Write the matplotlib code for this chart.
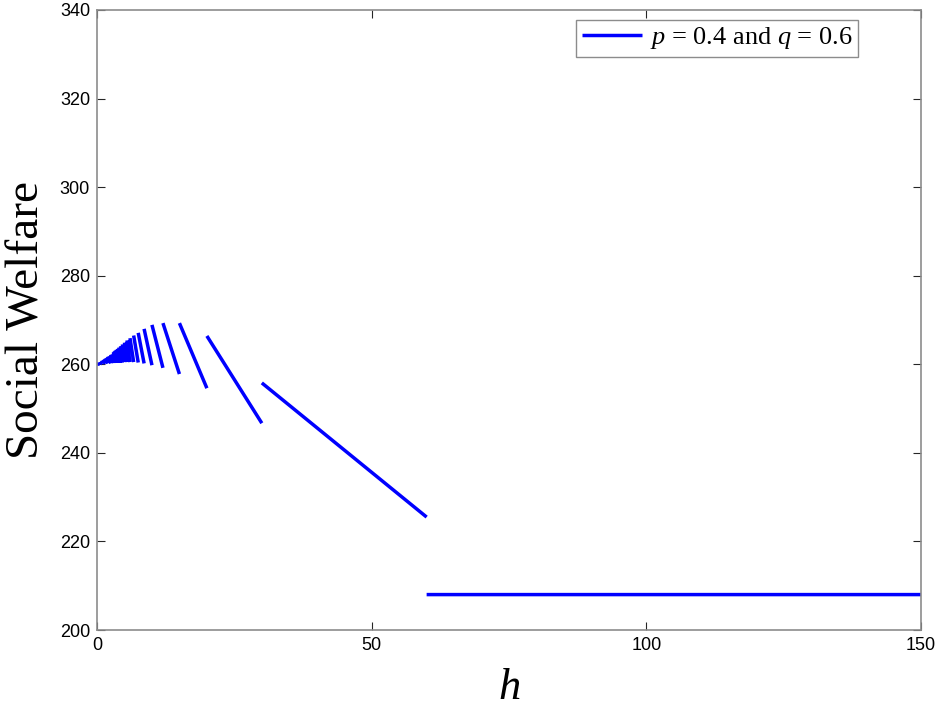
import matplotlib
matplotlib.use('Agg')
import matplotlib.pyplot as plt
import numpy as np

# segment boundaries in h and welfare at left/right end of each segment
seg_left = [60, 30, 20, 15, 12, 10, 8.57, 7.5, 6.67, 6, 5.45, 5, 4.62, 4.29, 4,
            3.75, 3.53, 3.33, 3.16, 3, 2.5, 2, 1.5, 1, 0.5, 0]
seg_right = [150, 60, 30, 20, 15, 12, 10, 8.57, 7.5, 6.67, 6, 5.45, 5, 4.62, 4.29,
             4, 3.75, 3.53, 3.33, 3.16, 3, 2.5, 2, 1.5, 1, 0.5]
w_start = [208, 255.8, 266.4, 269.3, 269.3, 268.9, 268.0, 267.1, 266.5, 265.9, 265.4,
           264.9, 264.5, 264.1, 263.8, 263.5, 263.3, 263.1, 262.9, 262.7, 262.2,
           261.8, 261.4, 261.0, 260.5, 260.1]
w_end = [208, 225.5, 246.7, 254.6, 257.8, 259.2, 259.8, 260.2, 260.4, 260.5, 260.5,
         260.5, 260.5, 260.4, 260.4, 260.4, 260.4, 260.3, 260.3, 260.3, 260.3,
         260.2, 260.2, 260.1, 260.1, 260.0]

plt.rcParams['mathtext.fontset'] = 'custom'
plt.rcParams['mathtext.rm'] = 'Liberation Serif'
plt.rcParams['mathtext.it'] = 'Liberation Serif:italic'

fig = plt.figure(figsize=(9.41, 7.09), dpi=100)
ax = fig.add_axes([0.1031, 0.1114, 0.8757, 0.8745])

xs, ys = [], []
for a, b, s, e in zip(seg_left, seg_right, w_start, w_end):
    xs += [a, b, np.nan]
    ys += [s, e, np.nan]
ax.plot(xs, ys, color='#0000ff', lw=2.5, solid_capstyle='butt',
        label=r'$p$ = 0.4 and $q$ = 0.6')

ax.set_xlim(0, 150)
ax.set_ylim(200, 340)
ax.set_xticks([0, 50, 100, 150])
ax.set_yticks(np.arange(200, 341, 20))
ax.tick_params(direction='in', top=True, right=True, length=6, width=0.8,
               labelsize=13, color='#262626', pad=5)
for lab in ax.get_xticklabels() + ax.get_yticklabels():
    lab.set_family('Liberation Sans')
for sp in ax.spines.values():
    sp.set_color('#8c8c8c')
    sp.set_linewidth(1.2)

ax.set_xlabel(r'$h$', fontsize=32, labelpad=8)
ax.set_ylabel('Social Welfare', fontsize=34, family='Liberation Serif', labelpad=8)

leg = ax.legend(loc='upper right', prop={'family': 'Liberation Serif', 'size': 19},
                fancybox=False, framealpha=1, edgecolor='#8c8c8c',
                handlelength=2.3, handletextpad=0.3, borderaxespad=0, borderpad=0.2,
                bbox_to_anchor=(858 / 941, (709 - 20) / 709),
                bbox_transform=fig.transFigure)
leg.get_frame().set_linewidth(1.0)

fig.savefig('out.png', dpi=100)
